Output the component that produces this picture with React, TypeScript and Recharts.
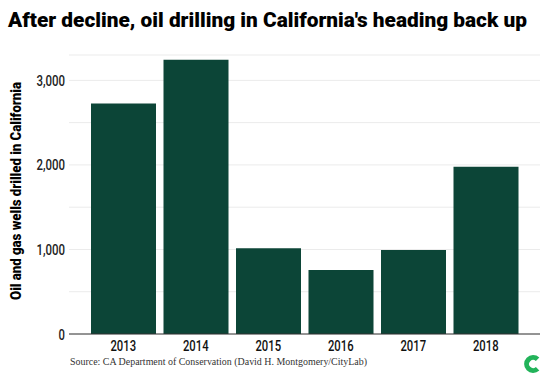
import React from "react";
import { BarChart, Bar, XAxis, YAxis, CartesianGrid } from "recharts";

const years = ["2013", "2014", "2015", "2016", "2017", "2018"];
const wells = [2725, 3245, 1013, 756, 993, 1978];
const yTicks = [0, 500, 1000, 1500, 2000, 2500, 3000];

const data = years.map((y, i) => ({ year: y, wells: wells[i] }));

const FONT = 'Roboto, "DejaVu Sans Condensed", sans-serif';

const labelWidth = (s: string) => {
  let w = 0;
  for (const c of s) w += c === "," ? 3 : 6.4;
  return w;
};

const XTick = (props: any) => {
  const { x, y, payload } = props;
  const s = String(payload.value);
  return (
    <text
      x={x}
      y={y + 17}
      textAnchor="middle"
      fontFamily={FONT}
      fontWeight={500}
      fontSize={15}
      fill="#111"
      textLength={labelWidth(s)}
      lengthAdjust="spacingAndGlyphs"
    >
      {s}
    </text>
  );
};

const YTick = (props: any) => {
  const { x, y, payload } = props;
  const v = Number(payload.value);
  if (v % 1000 !== 0) return null;
  const s = v.toLocaleString("en-US");
  return (
    <text
      x={x}
      y={y + 5.5}
      textAnchor="end"
      fontFamily={FONT}
      fontWeight={500}
      fontSize={15}
      fill="#222"
      textLength={labelWidth(s)}
      lengthAdjust="spacingAndGlyphs"
    >
      {s}
    </text>
  );
};

export default function App() {
  return (
    <div style={{ position: "absolute", left: 0, top: 0, width: 548, height: 378, background: "#fff" }}>
      <BarChart
        width={548}
        height={378}
        data={data}
        margin={{ top: 55, right: 8, bottom: 14, left: 0 }}
      >
        <CartesianGrid horizontal={true} vertical={false} stroke="#ebebeb" />
        <XAxis
          dataKey="year"
          height={30}
          padding={{ left: 18, right: 18 }}
          tickLine={false}
          axisLine={{ stroke: "#333", strokeWidth: 1 }}
          tick={<XTick />}
          tickSize={0}
          tickMargin={0}
        />
        <YAxis
          width={69}
          domain={[0, 3300]}
          ticks={yTicks}
          interval={0}
          axisLine={false}
          tickLine={false}
          tickSize={0}
          tickMargin={4}
          tick={<YTick />}
        />
        <Bar dataKey="wells" fill="#0c4537" barSize={65} isAnimationActive={false} />
      </BarChart>
      <svg
        width={548}
        height={378}
        style={{ position: "absolute", left: 0, top: 0, pointerEvents: "none" }}
      >
        <text
          x={8}
          y={27}
          fontFamily={FONT}
          fontWeight={900}
          fontSize={21}
          fill="#000"
          textLength={519}
          lengthAdjust="spacingAndGlyphs"
        >
          After decline, oil drilling in California's heading back up
        </text>
        <text
          x={0}
          y={0}
          transform="translate(21 191) rotate(-90)"
          textAnchor="middle"
          fontFamily={FONT}
          fontWeight={900}
          fontSize={15}
          fill="#000"
          textLength={218}
          lengthAdjust="spacingAndGlyphs"
        >
          Oil and gas wells drilled in California
        </text>
        <text x={70} y={365} fontFamily='"Liberation Serif", serif' fontSize={10.5} fill="#333"
          textLength={297} lengthAdjust="spacingAndGlyphs">
          Source: CA Department of Conservation (David H. Montgomery/CityLab)
        </text>
        <path
          d="M 537.6 359.3 A 6.5 6.5 0 1 0 537.6 368.7"
          fill="none"
          stroke="#22b35a"
          strokeWidth={5}
        />
      </svg>
    </div>
  );
}
